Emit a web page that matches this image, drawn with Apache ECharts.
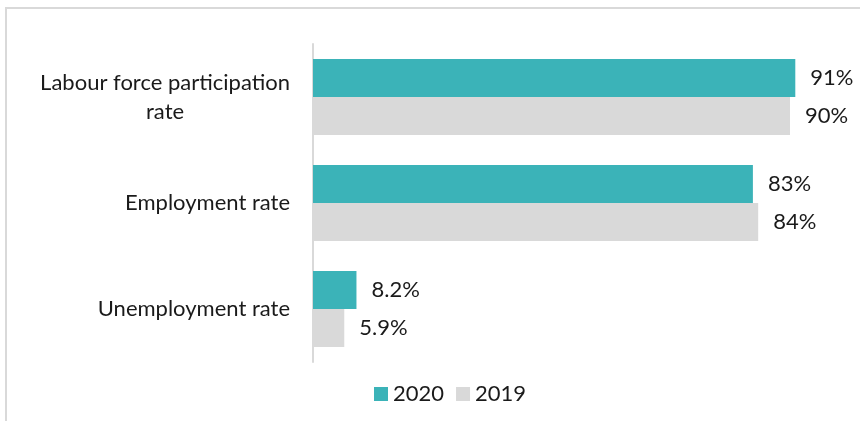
<!DOCTYPE html>
<html>
<head>
<meta charset="utf-8">
<script src="https://cdn.jsdelivr.net/npm/echarts@6/dist/echarts.min.js"></script>
<style>
  html, body { margin: 0; padding: 0; background: #fff; }
  #chart { width: 860px; height: 421px; }
</style>
</head>
<body>
<div id="chart"></div>
<script>
const categories = ['Labour force participation rate', 'Employment rate', 'Unemployment rate']
const values2020 = [91, 83, 8.2]
const values2019 = [90, 84, 5.9]
const seriesNames = ['2020', '2019']

const font = 'Lato'
const textColor = '#1a1a1a'

const chart = echarts.init(document.getElementById('chart'))

const barLabel = {
  show: true,
  position: 'right',
  distance: 15,
  fontFamily: font,
  fontSize: 22,
  color: textColor,
  formatter: p => p.value + '%'
}

chart.setOption({
  animation: false,
  graphic: [
    {
      type: 'rect',
      shape: { x: 6, y: 8, width: 900, height: 500 },
      style: { fill: 'none', stroke: '#d9d9d9', lineWidth: 2 },
      silent: true
    }
  ],
  grid: {
    top: 44,
    bottom: 59,
    left: 313,
    right: 17
  },
  legend: {
    data: seriesNames,
    left: 374,
    top: 383,
    padding: 0,
    itemWidth: 14,
    itemHeight: 14,
    itemGap: 12,
    icon: 'rect',
    textStyle: {
      fontFamily: font,
      fontSize: 22,
      color: textColor
    }
  },
  xAxis: {
    type: 'value',
    min: 0,
    max: 100,
    show: false
  },
  yAxis: {
    type: 'category',
    inverse: true,
    data: categories,
    axisLine: {
      show: true,
      lineStyle: { color: '#d9d9d9', width: 2 }
    },
    axisTick: { show: false },
    axisLabel: {
      interval: 0,
      margin: 23,
      fontFamily: font,
      fontSize: 22,
      color: textColor,
      lineHeight: 29,
      formatter: v => v === categories[0]
        ? '{a|Labour force participation}\n{b|rate}'
        : v,
      rich: {
        a: { fontFamily: font, fontSize: 22, color: textColor, lineHeight: 29 },
        b: { fontFamily: font, fontSize: 22, color: textColor, lineHeight: 29, align: 'center' }
      }
    }
  },
  series: [
    {
      name: seriesNames[0],
      type: 'bar',
      data: values2020,
      barWidth: 38,
      barGap: '0%',
      itemStyle: { color: '#3bb3b8' },
      label: barLabel
    },
    {
      name: seriesNames[1],
      type: 'bar',
      data: values2019,
      barWidth: 38,
      itemStyle: { color: '#d9d9d9' },
      label: barLabel
    }
  ]
})
</script>
</body>
</html>
